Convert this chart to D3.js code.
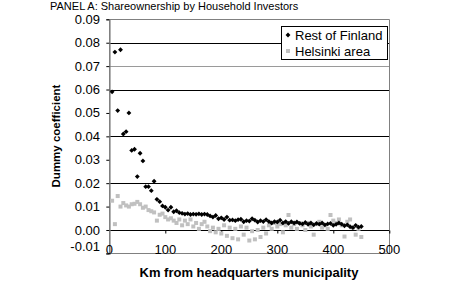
<!DOCTYPE html>
<html>
<head>
<meta charset="utf-8">
<script src="https://cdn.jsdelivr.net/npm/d3@7"></script>
<style>
  body { margin: 0; background: #fff; }
  svg.vis { display: block; font-family: Arial, "Liberation Sans", sans-serif; }
</style>
</head>
<body>
<svg class="vis" width="474" height="288"></svg>
<script>

// distance bands (km) shared by both series
const km = [5, 10, 15, 20, 25, 30, 35, 40, 45, 50,
            55, 60, 65, 70, 75, 80, 85, 90, 95, 100,
            105, 110, 115, 120, 125, 130, 135, 140, 145, 150,
            155, 160, 165, 170, 175, 180, 185, 190, 195, 200,
            205, 210, 215, 220, 225, 230, 235, 240, 245, 250,
            255, 260, 265, 270, 275, 280, 285, 290, 295, 300,
            305, 310, 315, 320, 325, 330, 335, 340, 345, 350,
            355, 360, 365, 370, 375, 380, 385, 390, 395, 400,
            405, 410, 415, 420, 425, 430, 435, 440, 445, 450];

const rest_of_finland = [0.059, 0.076, 0.051, 0.077, 0.041, 0.042, 0.050, 0.034, 0.0345, 0.0228,
            0.0328, 0.0295, 0.0185, 0.0185, 0.0168, 0.0208, 0.0131, 0.0121, 0.0103, 0.0097,
            0.0085, 0.0097, 0.0078, 0.0082, 0.0074, 0.0071, 0.0068, 0.0070, 0.0066, 0.0068,
            0.0067, 0.0069, 0.0066, 0.0068, 0.0066, 0.0060, 0.0055, 0.0062, 0.0048, 0.0052,
            0.0045, 0.0055, 0.0042, 0.0043, 0.0040, 0.0044, 0.0046, 0.0035, 0.0040, 0.0038,
            0.0048, 0.0042, 0.0034, 0.0040, 0.0036, 0.0044, 0.0036, 0.0030, 0.0036, 0.0034,
            0.0042, 0.0030, 0.0036, 0.0028, 0.0035, 0.0030, 0.0034, 0.0028, 0.0026, 0.0032,
            0.0024, 0.0030, 0.0022, 0.0028, 0.0025, 0.0030, 0.0022, 0.0026, 0.0028, 0.0020,
            0.0024, 0.0030, 0.0025, 0.0018, 0.0022, 0.0014, 0.0010, 0.0020, 0.0012, 0.0015];

const helsinki_area = [0.0125, 0.0025, 0.0145, 0.0100, 0.0115, 0.0105, 0.0100, 0.0110, 0.0112, 0.0120,
            0.0110, 0.0095, 0.0100, 0.0085, 0.0080, 0.0075, 0.0040, 0.0065, 0.0070, 0.0055,
            0.0045, 0.0050, 0.0040, 0.0030, 0.0045, 0.0020, 0.0040, 0.0025, 0.0045, 0.0015,
            0.0030, 0.0005, 0.0025, 0.0035, 0.0015, -0.0005, 0.0010, -0.0010, 0.0005, -0.0015,
            0.0020, -0.0025, 0.0010, -0.0035, 0.0005, -0.0040, 0.0015, -0.0020, 0.0010, -0.0045,
            -0.0005, -0.0040, 0.0000, -0.0030, 0.0010, -0.0015, 0.0020, 0.0005, 0.0030, 0.0015,
            0.0025, -0.0010, 0.0020, 0.0064, 0.0010, 0.0025, 0.0005, 0.0030, 0.0020, 0.0000,
            0.0030, 0.0015, -0.0020, 0.0025, 0.0035, 0.0010, 0.0020, 0.0005, 0.0064, 0.0040,
            0.0030, 0.0045, 0.0020, -0.0028, 0.0035, 0.0045, 0.0010, -0.0020, 0.0005, -0.0030];

const y_ticks = [-0.01, 0.00, 0.01, 0.02, 0.03, 0.04, 0.05, 0.06, 0.07, 0.08, 0.09];
const y_tick_labels = ["-0.01", "0.00", "0.01", "0.02", "0.03", "0.04", "0.05", "0.06", "0.07", "0.08", "0.09"];
const grid_values = [0.00, 0.02, 0.04, 0.06, 0.07, 0.08];
const x_ticks = [0, 100, 200, 300, 400, 500];

const series_names = ["Rest of Finland", "Helsinki area"];

const vis = {

    refs: {
        svg: "svg.vis"
    },

    sels: {
        svg: null
    },

    dims: {
        w: 474,
        h: 288,
        left: 109.3,
        right: 389.3,
        top: 19.3,
        bottom: 253.4
    },

    init: function() {

        vis.sels.svg = d3.select(vis.refs.svg);
        vis.draw.begin();

    },

    draw: {

        scales: {

            x: d3.scaleLinear(),
            y: d3.scaleLinear(),

            initialize: function() {

                vis.draw.scales.x
                  .domain([0, 500])
                  .range([vis.dims.left, vis.dims.right]);

                vis.draw.scales.y
                  .domain([-0.01, 0.09])
                  .range([vis.dims.bottom, vis.dims.top]);

            }

        },

        // small square diamond, like the excel marker
        diamond: d3.symbol(d3.symbolDiamond2, 15),

        frame: function() {

            let svg = vis.sels.svg;
            let x = vis.draw.scales.x;
            let y = vis.draw.scales.y;

            // gridlines
            svg.append("g")
              .selectAll("line")
              .data(grid_values)
              .join("line")
              .attr("x1", vis.dims.left)
              .attr("x2", vis.dims.right)
              .attr("y1", d => Math.round(y(d)) + 0.5)
              .attr("y2", d => Math.round(y(d)) + 0.5)
              .attr("stroke", d => d == 0.07 ? "#9a9a9a" : "#000")
              .attr("stroke-width", 1);

            // plot area border (top / right / bottom)
            svg.append("path")
              .attr("d", `M${vis.dims.left},${Math.round(vis.dims.top) + 0.5}
                          H${Math.round(vis.dims.right) + 0.5}
                          V${Math.round(vis.dims.bottom) + 0.5}
                          H${vis.dims.left}`)
              .attr("fill", "none")
              .attr("stroke", "#808080")
              .attr("stroke-width", 1);

            // y axis with ticks
            let y_axis = d3.axisLeft(y)
              .tickValues(y_ticks)
              .tickSize(3)
              .tickFormat("");

            let ya = svg.append("g")
              .attr("transform", `translate(${vis.dims.left},0)`)
              .call(y_axis);

            ya.select(".domain").attr("stroke", "#808080").attr("stroke-width", 1.6);
            ya.selectAll(".tick line").attr("stroke", "#000");

            // y labels
            svg.append("g")
              .selectAll("text")
              .data(y_ticks)
              .join("text")
              .attr("x", 100)
              .attr("y", (d, i) => y(d) + (d < 0 ? -7 : 0))
              .attr("dy", "0.35em")
              .attr("text-anchor", "end")
              .attr("font-size", 13)
              .attr("fill", "#000")
              .text((d, i) => y_tick_labels[i]);

            // x axis at zero, ticks pointing down
            let x_axis = d3.axisBottom(x)
              .tickValues(x_ticks.slice(1))
              .tickSize(3)
              .tickSizeOuter(0)
              .tickFormat("");

            let xa = svg.append("g")
              .attr("transform", `translate(0,${Math.round(y(0)) + 0.5})`)
              .call(x_axis);

            xa.select(".domain").remove();
            xa.selectAll(".tick line").attr("stroke", "#000");

            // x labels sit at the bottom of the plot area
            svg.append("g")
              .selectAll("text")
              .data(x_ticks)
              .join("text")
              .attr("x", d => x(d))
              .attr("y", vis.dims.bottom + 1)
              .attr("text-anchor", "middle")
              .attr("font-size", 13)
              .attr("fill", "#000")
              .text(d => d);

        },

        points: function() {

            let svg = vis.sels.svg;
            let x = vis.draw.scales.x;
            let y = vis.draw.scales.y;

            let helsinki = km.map((k, i) => ({ k: k, v: helsinki_area[i] }));
            let rest = km.map((k, i) => ({ k: k, v: rest_of_finland[i] }));

            svg.append("g")
              .selectAll("rect")
              .data(helsinki)
              .join("rect")
              .attr("x", d => x(d.k) - 2)
              .attr("y", d => y(d.v) - 2)
              .attr("width", 4)
              .attr("height", 4)
              .attr("fill", "#c0c0c0");

            svg.append("g")
              .selectAll("path")
              .data(rest)
              .join("path")
              .attr("d", vis.draw.diamond)
              .attr("transform", d => `translate(${x(d.k)},${y(d.v)})`)
              .attr("fill", "#000");

        },

        legend: function() {

            let svg = vis.sels.svg;

            let lg = svg.append("g")
              .attr("transform", "translate(281,26)");

            lg.append("rect")
              .attr("x", 0.5)
              .attr("y", 0.5)
              .attr("width", 106)
              .attr("height", 33)
              .attr("fill", "#fff")
              .attr("stroke", "#000");

            let rows = lg.selectAll("g.row")
              .data(series_names)
              .join("g")
              .attr("class", "row")
              .attr("transform", (d, i) => `translate(0,${9 + i * 16})`);

            rows.filter((d, i) => i == 0)
              .append("path")
              .attr("d", vis.draw.diamond)
              .attr("transform", "translate(7,0)")
              .attr("fill", "#000");

            rows.filter((d, i) => i == 1)
              .append("rect")
              .attr("x", 5)
              .attr("y", -2)
              .attr("width", 4)
              .attr("height", 4)
              .attr("fill", "#c0c0c0");

            rows.append("text")
              .attr("x", 14)
              .attr("dy", "0.35em")
              .attr("font-size", 13)
              .attr("fill", "#000")
              .text(d => d);

        },

        titles: function() {

            let svg = vis.sels.svg;

            svg.append("text")
              .attr("x", 50)
              .attr("y", 10)
              .attr("font-size", 11)
              .attr("fill", "#000")
              .text("PANEL A: Shareownership by Household Investors");

            svg.append("text")
              .attr("transform", "translate(60,136) rotate(-90)")
              .attr("text-anchor", "middle")
              .attr("font-size", 11.5)
              .attr("font-weight", "bold")
              .attr("fill", "#000")
              .text("Dummy coefficient");

            svg.append("text")
              .attr("x", 249)
              .attr("y", 277)
              .attr("text-anchor", "middle")
              .attr("font-size", 13)
              .attr("font-weight", "bold")
              .attr("fill", "#000")
              .text("Km from headquarters municipality");

        },

        begin: function() {

            vis.draw.scales.initialize();
            vis.draw.frame();
            vis.draw.points();
            vis.draw.legend();
            vis.draw.titles();

        }

    }

};

vis.init();

</script>
</body>
</html>
